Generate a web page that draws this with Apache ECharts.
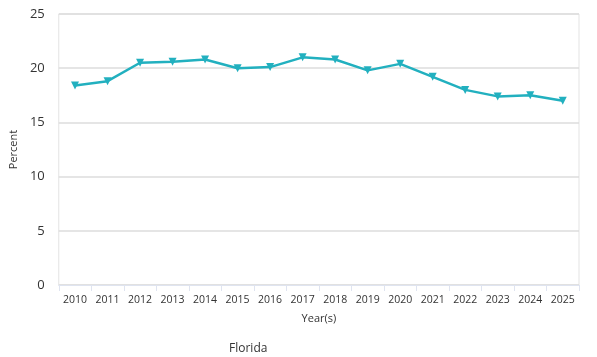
<!DOCTYPE html>
<html><head><meta charset="utf-8">
<script src="https://cdn.jsdelivr.net/npm/echarts@6/dist/echarts.min.js"></script>
<style>html,body{margin:0;padding:0;background:#fff}#c{width:597px;height:357px}</style>
</head><body><div id="c"></div>
<script>
const years = ['2010','2011','2012','2013','2014','2015','2016','2017','2018','2019','2020','2021','2022','2023','2024','2025'];
const florida = [18.4,18.8,20.5,20.6,20.8,20.0,20.1,21.0,20.8,19.8,20.4,19.2,18.0,17.4,17.5,17.0];
const yTicks = [0,5,10,15,20,25];
const font = '"Open Sans", "Noto Sans", sans-serif';
const chart = echarts.init(document.getElementById('c'));
chart.setOption({
  animation:false,
  grid:{left:57,right:18,top:14,bottom:72,show:true,borderColor:'#e3e3e3',borderWidth:1},
  legend:{data:['Florida'],bottom:-3,left:219,icon:'rect',itemWidth:0,itemHeight:0,
    textStyle:{fontFamily:font,fontSize:12,color:'#333'}},
  xAxis:{type:'category',data:years,name:'Year(s)',nameLocation:'middle',nameGap:28,
    nameTextStyle:{fontFamily:font,fontSize:11,color:'#333'},
    axisLine:{lineStyle:{color:'#dfe4f0'}},axisTick:{show:true,lineStyle:{color:'#dfe4f0'},length:6},
    axisLabel:{interval:0,hideOverlap:false,fontFamily:font,fontSize:10.5,color:'#333',margin:10}},
  yAxis:{type:'value',min:yTicks[0],max:yTicks[yTicks.length-1],interval:5,name:'Percent',nameLocation:'middle',nameGap:28,
    nameTextStyle:{fontFamily:font,fontSize:11,color:'#333'},
    axisLine:{show:false},axisTick:{show:false},
    splitLine:{lineStyle:{color:'#dcdcdc',width:1.5}},
    axisLabel:{fontFamily:font,fontSize:13,color:'#333',margin:14}},
  series:[{name:'Florida',type:'line',data:florida,symbol:'triangle',symbolRotate:180,symbolSize:8,
    lineStyle:{color:'#22b0bf',width:2.5},itemStyle:{color:'#22b0bf'}}]
});
</script></body></html>
